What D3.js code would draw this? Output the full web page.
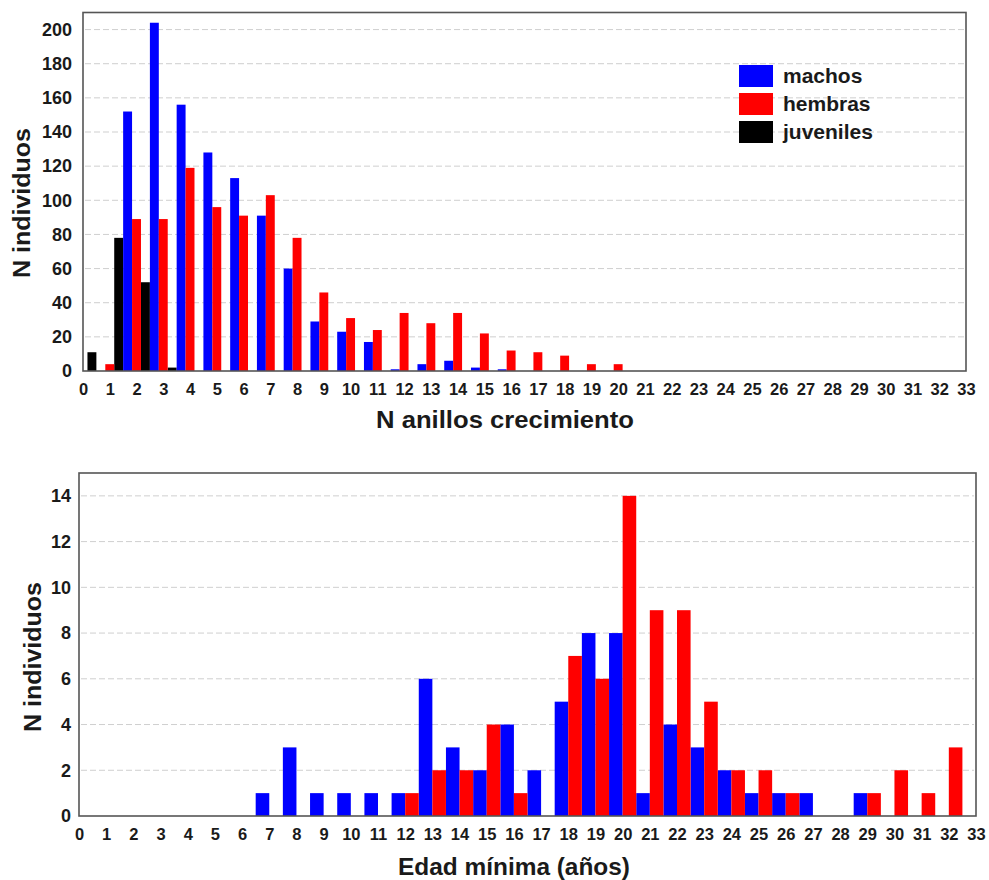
<!DOCTYPE html>
<html>
<head>
<meta charset="utf-8">
<script src="https://cdn.jsdelivr.net/npm/d3@7"></script>
<style>
  body { margin: 0; background: #fff; }
  svg { display: block; }
  text { font-family: Arial, "Liberation Sans", sans-serif; font-weight: bold; fill: #1a1a1a; }
</style>
</head>
<body>
<svg id="chart" width="989" height="880"></svg>
<script>
// top chart: N anillos crecimiento
const anillos = d3.range(1, 21)
const machosAnillos = [0, 152, 204, 156, 128, 113, 91, 60, 29, 23, 17, 1, 4, 6, 2, 1, 0, 0, 0, 0]
const hembrasAnillos = [4, 89, 89, 119, 96, 91, 103, 78, 46, 31, 24, 34, 28, 34, 22, 12, 11, 9, 4, 4]
const juvenilesAnillos = [11, 78, 52, 2, 0, 0, 0, 0, 0, 0, 0, 0, 0, 0, 0, 0, 0, 0, 0, 0]
const topYTicks = [0, 20, 40, 60, 80, 100, 120, 140, 160, 180, 200]

// bottom chart: Edad minima
const edades = d3.range(1, 33)
const machosEdad = [0, 0, 0, 0, 0, 0, 1, 3, 1, 1, 1, 1, 6, 3, 2, 4, 2, 5, 8, 8, 1, 4, 3, 2, 1, 1, 1, 0, 1, 0, 0, 0]
const hembrasEdad = [0, 0, 0, 0, 0, 0, 0, 0, 0, 0, 0, 1, 2, 2, 4, 1, 0, 7, 6, 14, 9, 9, 5, 2, 2, 1, 0, 0, 1, 2, 1, 3]
const bottomYTicks = [0, 2, 4, 6, 8, 10, 12, 14]

const xTicks = d3.range(0, 34)
const legendLabels = ['machos', 'hembras', 'juveniles']
const colors = { machos: '#0000ff', hembras: '#ff0000', juveniles: '#000000' }

const svg = d3.select('#chart')

function drawPanel(opt) {
    const g = svg.append('g')
    const x = d3.scaleLinear().domain([0, 33]).range([opt.left, opt.right])
    const y = d3.scaleLinear().domain([0, opt.yMax]).range([opt.bottom, opt.top])

    // grid
    g.selectAll('.grid')
        .data(opt.yTicks.filter(d => d > 0))
        .enter().append('line')
        .attr('x1', opt.left + 2)
        .attr('x2', opt.right - 2)
        .attr('y1', d => y(d))
        .attr('y2', d => y(d))
        .attr('stroke', '#cfcfcf')
        .attr('stroke-width', 1)
        .attr('stroke-dasharray', '6,3')

    // bars
    opt.series.forEach(s => {
        g.selectAll(null)
            .data(opt.cats.map((c, i) => ({ c: c, v: s.values[i] })).filter(d => d.v > 0))
            .enter().append('rect')
            .attr('x', d => x(d.c + s.offset))
            .attr('width', x(s.width) - x(0))
            .attr('y', d => y(d.v))
            .attr('height', d => y(0) - y(d.v))
            .attr('fill', s.color)
    })

    // frame
    g.append('rect')
        .attr('x', opt.left)
        .attr('y', opt.top)
        .attr('width', opt.right - opt.left)
        .attr('height', opt.bottom - opt.top)
        .attr('fill', 'none')
        .attr('stroke', '#555')
        .attr('stroke-width', 1.6)

    // axes (labels only)
    const xAxis = g.append('g')
        .attr('transform', `translate(0,${opt.bottom})`)
        .call(d3.axisBottom(x).tickValues(xTicks).tickSize(0).tickPadding(12).tickFormat(d3.format('d')))
    xAxis.select('.domain').remove()
    xAxis.selectAll('text').attr('font-size', 16.5).attr('font-family', null).attr('fill', '#1a1a1a')

    const yAxis = g.append('g')
        .attr('transform', `translate(${opt.left},0)`)
        .call(d3.axisLeft(y).tickValues(opt.yTicks).tickSize(0).tickPadding(opt.yPad))
    yAxis.select('.domain').remove()
    yAxis.selectAll('text').attr('font-size', 18).attr('font-family', null).attr('fill', '#1a1a1a')

    g.append('text')
        .attr('x', opt.xTitleX)
        .attr('y', opt.xTitleY)
        .attr('text-anchor', 'middle')
        .attr('font-size', 24)
        .attr('textLength', opt.xTitleLen)
        .attr('lengthAdjust', 'spacingAndGlyphs')
        .text(opt.xTitle)

    g.append('text')
        .attr('transform', `translate(${opt.yTitleX},${opt.yTitleY}) rotate(-90)`)
        .attr('text-anchor', 'middle')
        .attr('font-size', 24)
        .attr('textLength', 150)
        .attr('lengthAdjust', 'spacingAndGlyphs')
        .text('N individuos')
    return g
}

const topPanel = drawPanel({
    left: 83, right: 966, top: 12.5, bottom: 371, yMax: 210,
    yTicks: topYTicks, yPad: 11, cats: anillos,
    series: [
        { values: juvenilesAnillos, color: colors.juveniles, offset: -5 / 6, width: 1 / 3 },
        { values: machosAnillos, color: colors.machos, offset: -1 / 2, width: 1 / 3 },
        { values: hembrasAnillos, color: colors.hembras, offset: -1 / 6, width: 1 / 3 }
    ],
    xTitle: 'N anillos crecimiento', xTitleX: 505, xTitleY: 428, xTitleLen: 258,
    yTitleX: 30, yTitleY: 203
})

drawPanel({
    left: 79, right: 976, top: 473, bottom: 816, yMax: 15,
    yTicks: bottomYTicks, yPad: 8, cats: edades,
    series: [
        { values: machosEdad, color: colors.machos, offset: -1 / 2, width: 1 / 2 },
        { values: hembrasEdad, color: colors.hembras, offset: 0, width: 1 / 2 }
    ],
    xTitle: 'Edad mínima (años)', xTitleX: 514, xTitleY: 875, xTitleLen: 232,
    yTitleX: 41, yTitleY: 657
})

// legend
const legend = topPanel.append('g').attr('transform', 'translate(739,65)')
legendLabels.forEach((name, i) => {
    legend.append('rect')
        .attr('x', 0)
        .attr('y', i * 28)
        .attr('width', 34)
        .attr('height', 22)
        .attr('fill', colors[name])
    legend.append('text')
        .attr('x', 44)
        .attr('y', i * 28 + 18)
        .attr('font-size', 21)
        .text(name)
})
</script>
</body>
</html>
